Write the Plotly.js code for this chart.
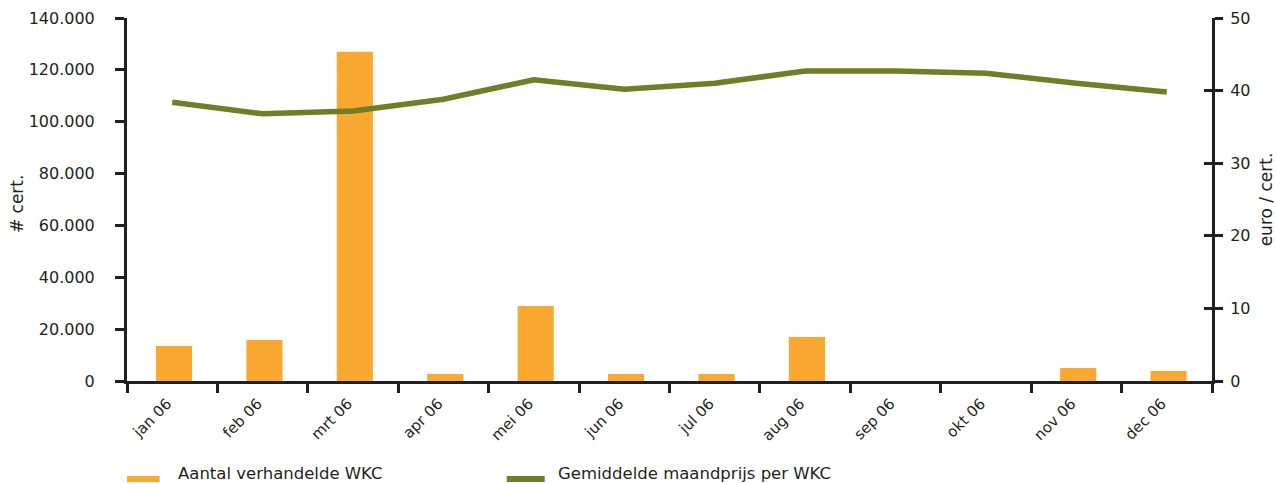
<!DOCTYPE html>
<html><head><meta charset="utf-8">
<script src="https://cdn.plot.ly/plotly-3.0.1.min.js"></script>
<style>html,body{margin:0;padding:0;background:#fff}#c{width:1276px;height:484px}</style>
</head><body><div id="c"></div>
<script>
const months = ['jan 06','feb 06','mrt 06','apr 06','mei 06','jun 06','jul 06','aug 06','sep 06','okt 06','nov 06','dec 06'];
const volume = [13500, 15800, 127000, 2700, 28900, 2700, 2700, 17000, 0, 0, 5000, 3900];
const price = [38.4, 36.8, 37.2, 38.8, 41.5, 40.2, 41.0, 42.7, 42.7, 42.4, 41.0, 39.8];
const volumeName = 'Aantal verhandelde WKC';
const priceName = 'Gemiddelde maandprijs per WKC';
const leftTitle = '# cert.';
const rightTitle = 'euro / cert.';
const leftTicks = [0,20000,40000,60000,80000,100000,120000,140000];
const leftTickText = ['0','20.000','40.000','60.000','80.000','100.000','120.000','140.000'];
const rightTicks = [0,10,20,30,40,50];

const orange = '#f9a832', green = '#6e7f25', dark = '#231f20';
const fam = '"DejaVu Sans", sans-serif';
const font = {family:fam, size:16, color:dark};

const traces = [
  {type:'bar', x:months, y:volume, name:volumeName, marker:{color:orange}, width:0.4, offset:-0.18, yaxis:'y'},
  {type:'scatter', mode:'lines', x:months, y:price, name:priceName, line:{color:green, width:5.5}, yaxis:'y2'},
  {type:'scatter', x:[months[0]], y:[0], yaxis:'y3', mode:'markers', marker:{opacity:0}, hoverinfo:'skip', showlegend:false}
];

const layout = {
  width:1276, height:484,
  margin:{l:127, r:64, t:18, b:103},
  paper_bgcolor:'#fff', plot_bgcolor:'#fff',
  showlegend:false,
  font:font,
  xaxis:{
    type:'category', range:[-0.5, 11.5], automargin:false,
    tickson:'boundaries', ticks:'outside', ticklen:9, tickwidth:3, tickcolor:dark,
    showline:true, linecolor:dark, linewidth:3, showgrid:false, zeroline:false,
    tickangle:-45, ticklabelstandoff:5, ticklabelshift:-5,
    tickfont:{family:fam, size:15, color:dark}
  },
  yaxis:{
    range:[0,140000], tickvals:leftTicks, ticktext:leftTickText, automargin:false,
    ticks:'outside', ticklen:9, tickwidth:3, tickcolor:dark, ticklabelstandoff:17,
    showline:true, linecolor:dark, linewidth:3, showgrid:false, zeroline:false,
    tickfont:{family:fam, size:16, color:dark}
  },
  yaxis2:{
    overlaying:'y', side:'right', range:[0,50], tickvals:rightTicks, automargin:false,
    ticks:'outside', ticklen:8, tickwidth:3, tickcolor:dark, ticklabelstandoff:4,
    showline:true, linecolor:dark, linewidth:3, showgrid:false, zeroline:false,
    tickfont:{family:fam, size:16, color:dark},
    title:{text:rightTitle, font:{family:fam, size:17, color:dark}, standoff:13}
  },
  yaxis3:{
    overlaying:'y', side:'right', range:[0,50], tickvals:rightTicks, automargin:false,
    ticks:'inside', ticklen:8, tickwidth:3, tickcolor:dark, showticklabels:false,
    showline:false, showgrid:false, zeroline:false
  },
  shapes:[
    {type:'line', xref:'paper', yref:'paper', x0:0.0, x1:0.03, y0:-0.27, y1:-0.27, line:{color:orange, width:6}},
    {type:'line', xref:'paper', yref:'paper', x0:0.35, x1:0.385, y0:-0.27, y1:-0.27, line:{color:green, width:6}}
  ],
  annotations:[
    {xref:'paper', yref:'paper', x:-0.1014, y:0.49, xanchor:'center', yanchor:'middle', textangle:-90, showarrow:false, text:leftTitle, font:{family:fam, size:17, color:dark}},
    {xref:'paper', yref:'paper', x:0.045, y:-0.255, xanchor:'left', yanchor:'middle', showarrow:false, text:volumeName, font:{family:fam, size:16.5, color:dark}},
    {xref:'paper', yref:'paper', x:0.395, y:-0.255, xanchor:'left', yanchor:'middle', showarrow:false, text:priceName, font:{family:fam, size:16.5, color:dark}}
  ]
};

Plotly.newPlot('c', traces, layout, {displayModeBar:false, staticPlot:true});
</script></body></html>
